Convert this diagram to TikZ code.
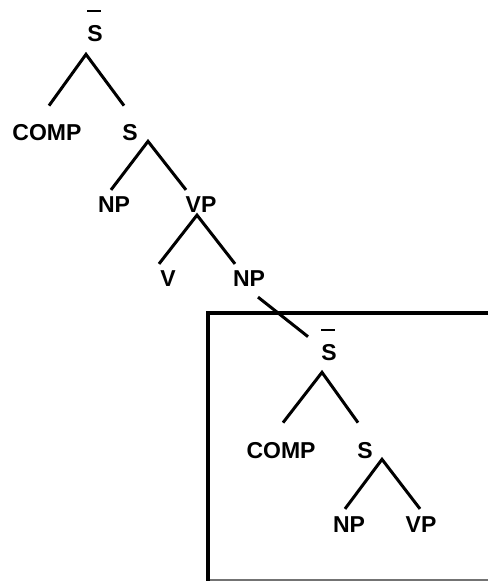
\documentclass[tikz,border=0pt]{standalone}
\usepackage{fontspec}
\setmainfont{Liberation Sans}
\usetikzlibrary{calc}
\begin{document}
\begin{tikzpicture}[x=1pt,y=-1pt,
  lbl/.style={inner sep=0pt,font=\fontsize{23}{23}\selectfont\bfseries},
  branch/.style={line width=3pt},
  barline/.style={line width=2.2pt},
  frame/.style={line width=4.5pt},
  framebot/.style={line width=1.5pt,black!55}]
\useasboundingbox (0,0) rectangle (488,581);
% labels
\node[lbl] (s0) at (95,34) {S};
\node[lbl] (comp1) at (47,133) {COMP};
\node[lbl] (s1) at (130,133) {S};
\node[lbl] (np1) at (114,205) {NP};
\node[lbl] (vp1) at (201,205) {VP};
\node[lbl] (v) at (168,279) {V};
\node[lbl] (np2) at (249,279) {NP};
\node[lbl] (s2) at (329,353) {S};
\node[lbl] (comp2) at (281,451) {COMP};
\node[lbl] (s3) at (365,451) {S};
\node[lbl] (np3) at (349,525) {NP};
\node[lbl] (vp3) at (421,525) {VP};
% bars
\draw[barline] ($(s0.north)+(-8,-15)$) -- ($(s0.north)+(6,-15)$);
\draw[barline] ($(s2.north)+(-8,-15)$) -- ($(s2.north)+(6,-15)$);
% branches
\coordinate (a0) at ($(s0.south)+(-9,12)$);
\draw[branch] ($(comp1.north)+(2,-19)$) -- (a0) -- ($(s1.north)+(-6,-19)$);
\coordinate (a1) at ($(s1.south)+(18,0)$);
\draw[branch] ($(np1.north)+(-3,-7)$) -- (a1) -- ($(vp1.north)+(-15,-7)$);
\coordinate (a2) at ($(vp1.south)+(-4,2)$);
\draw[branch] ($(v.north)+(-9,-7)$) -- (a2) -- ($(np2.north)+(-14,-7)$);
\draw[branch] ($(np2.south)+(9,10)$) -- ($(s2.north)+(-21,-8)$);
\coordinate (a3) at ($(s2.south)+(-7,11)$);
\draw[branch] ($(comp2.north)+(2,-20)$) -- (a3) -- ($(s3.north)+(-7,-20)$);
\coordinate (a4) at ($(s3.south)+(17,0)$);
\draw[branch] ($(np3.north)+(-4,-8)$) -- (a4) -- ($(vp3.north)+(-1,-8)$);
% frame
\coordinate (fc) at (208,313);
\draw[frame] (488,313) -- (fc) -- (208,581);
\draw[framebot] (210,580) -- (488,580);
\end{tikzpicture}
\end{document}
